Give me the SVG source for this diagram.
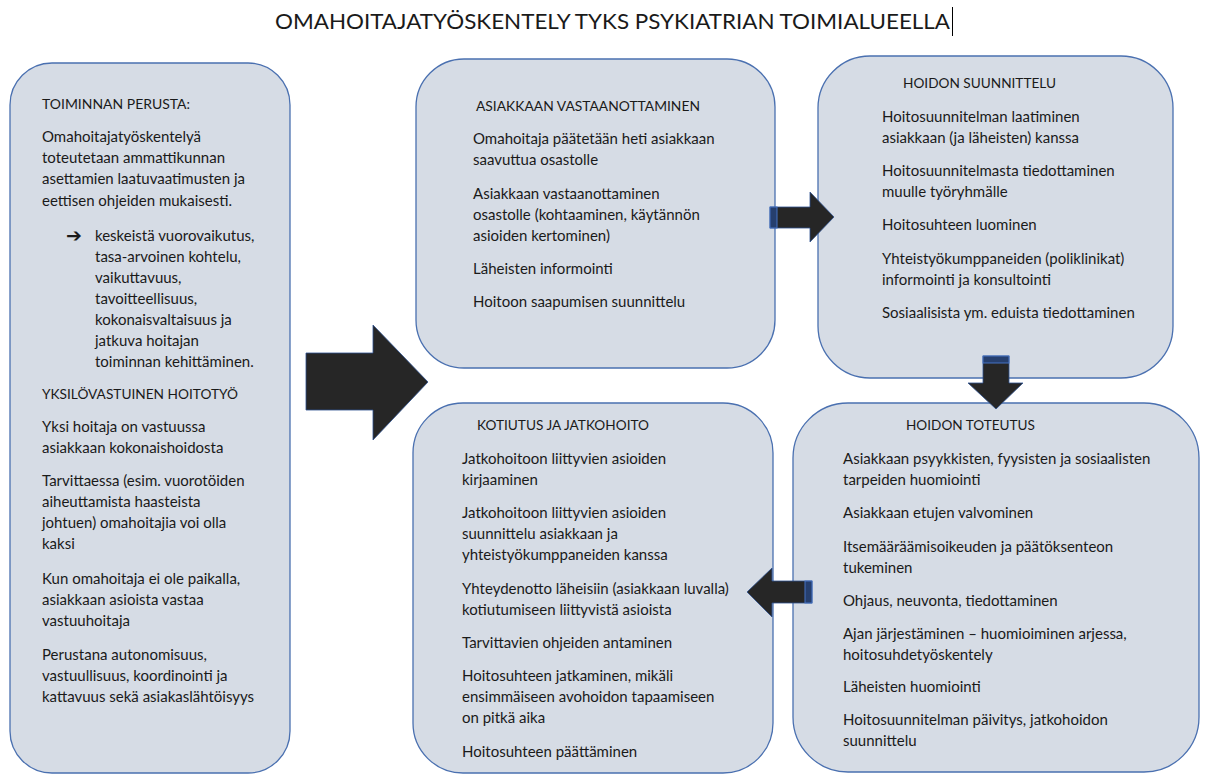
<svg xmlns="http://www.w3.org/2000/svg" width="1206" height="775" viewBox="0 0 1206 775">
<style>
.box{fill:#d6dce5;stroke:#4a70b0;stroke-width:1.3}
.t{font-family:Lato,"Liberation Sans",sans-serif;font-size:15px;fill:#1a1a1a}
.h{font-family:Lato,"Liberation Sans",sans-serif;font-size:14px;fill:#1a1a1a}
.arr{fill:#262626;stroke:#2f528f;stroke-width:0.8}
.band{fill:#263f6e;stroke:#4472c4;stroke-width:1}
</style>
<rect width="1206" height="775" fill="#ffffff"/>
<text x="275" y="29" font-family="Lato,'Liberation Sans',sans-serif" font-size="21" fill="#1a1a1a" textLength="675" lengthAdjust="spacingAndGlyphs">OMAHOITAJATYÖSKENTELY TYKS PSYKIATRIAN TOIMIALUEELLA</text>
<line x1="952.5" y1="7" x2="952.5" y2="36" stroke="#000" stroke-width="1"/>

<g id="perusta">
<rect class="box" x="10" y="63" width="280" height="710" rx="42" ry="42"/>
<text class="h" x="42" y="109" textLength="148" lengthAdjust="spacingAndGlyphs">TOIMINNAN PERUSTA:</text>
<text class="t" x="42" y="142">Omahoitajatyöskentelyä</text>
<text class="t" x="42" y="163">toteutetaan ammattikunnan</text>
<text class="t" x="42" y="184">asettamien laatuvaatimusten ja</text>
<text class="t" x="42" y="206">eettisen ohjeiden mukaisesti.</text>
<text x="66" y="242" font-family="'DejaVu Sans',sans-serif" font-size="19" font-weight="bold" fill="#1a1a1a">➔</text>
<text class="t" x="95" y="241">keskeistä vuorovaikutus,</text>
<text class="t" x="95" y="262">tasa-arvoinen kohtelu,</text>
<text class="t" x="95" y="283">vaikuttavuus,</text>
<text class="t" x="95" y="304">tavoitteellisuus,</text>
<text class="t" x="95" y="325">kokonaisvaltaisuus ja</text>
<text class="t" x="95" y="346">jatkuva hoitajan</text>
<text class="t" x="95" y="367">toiminnan kehittäminen.</text>
<text class="h" x="42" y="399" textLength="196" lengthAdjust="spacingAndGlyphs">YKSILÖVASTUINEN HOITOTYÖ</text>
<text class="t" x="42" y="432">Yksi hoitaja on vastuussa</text>
<text class="t" x="42" y="453">asiakkaan kokonaishoidosta</text>
<text class="t" x="42" y="486">Tarvittaessa (esim. vuorotöiden</text>
<text class="t" x="42" y="507">aiheuttamista haasteista</text>
<text class="t" x="42" y="528">johtuen) omahoitajia voi olla</text>
<text class="t" x="42" y="549">kaksi</text>
<text class="t" x="42" y="584">Kun omahoitaja ei ole paikalla,</text>
<text class="t" x="42" y="605">asiakkaan asioista vastaa</text>
<text class="t" x="42" y="626">vastuuhoitaja</text>
<text class="t" x="42" y="660">Perustana autonomisuus,</text>
<text class="t" x="42" y="681">vastuullisuus, koordinointi ja</text>
<text class="t" x="42" y="702">kattavuus sekä asiakaslähtöisyys</text>
</g>

<g id="vastaanottaminen">
<rect class="box" x="416" y="59" width="359" height="309" rx="48" ry="48"/>
<text class="h" x="476" y="111" textLength="224" lengthAdjust="spacingAndGlyphs">ASIAKKAAN VASTAANOTTAMINEN</text>
<text class="t" x="473" y="144">Omahoitaja päätetään heti asiakkaan</text>
<text class="t" x="473" y="165">saavuttua osastolle</text>
<text class="t" x="473" y="199">Asiakkaan vastaanottaminen</text>
<text class="t" x="473" y="220">osastolle (kohtaaminen, käytännön</text>
<text class="t" x="473" y="241">asioiden kertominen)</text>
<text class="t" x="473" y="274">Läheisten informointi</text>
<text class="t" x="473" y="307">Hoitoon saapumisen suunnittelu</text>
</g>

<g id="suunnittelu">
<rect class="box" x="818" y="56" width="355" height="322" rx="52" ry="52"/>
<text class="h" x="903" y="88" textLength="153" lengthAdjust="spacingAndGlyphs">HOIDON SUUNNITTELU</text>
<text class="t" x="882" y="122">Hoitosuunnitelman laatiminen</text>
<text class="t" x="882" y="143">asiakkaan (ja läheisten) kanssa</text>
<text class="t" x="882" y="176">Hoitosuunnitelmasta tiedottaminen</text>
<text class="t" x="882" y="197">muulle työryhmälle</text>
<text class="t" x="882" y="230">Hoitosuhteen luominen</text>
<text class="t" x="882" y="264">Yhteistyökumppaneiden (poliklinikat)</text>
<text class="t" x="882" y="285">informointi ja konsultointi</text>
<text class="t" x="882" y="318">Sosiaalisista ym. eduista tiedottaminen</text>
</g>

<g id="kotiutus">
<rect class="box" x="413" y="403" width="360" height="370" rx="50" ry="50"/>
<text class="h" x="477" y="430" textLength="172" lengthAdjust="spacingAndGlyphs">KOTIUTUS JA JATKOHOITO</text>
<text class="t" x="462" y="464">Jatkohoitoon liittyvien asioiden</text>
<text class="t" x="462" y="485">kirjaaminen</text>
<text class="t" x="462" y="518">Jatkohoitoon liittyvien asioiden</text>
<text class="t" x="462" y="539">suunnittelu asiakkaan ja</text>
<text class="t" x="462" y="560">yhteistyökumppaneiden kanssa</text>
<text class="t" x="462" y="594">Yhteydenotto läheisiin (asiakkaan luvalla)</text>
<text class="t" x="462" y="615">kotiutumiseen liittyvistä asioista</text>
<text class="t" x="462" y="648">Tarvittavien ohjeiden antaminen</text>
<text class="t" x="462" y="681">Hoitosuhteen jatkaminen, mikäli</text>
<text class="t" x="462" y="702">ensimmäiseen avohoidon tapaamiseen</text>
<text class="t" x="462" y="723">on pitkä aika</text>
<text class="t" x="462" y="757">Hoitosuhteen päättäminen</text>
</g>

<g id="toteutus">
<rect class="box" x="793" y="403" width="406" height="369" rx="55" ry="55"/>
<text class="h" x="906" y="430" textLength="129" lengthAdjust="spacingAndGlyphs">HOIDON TOTEUTUS</text>
<text class="t" x="843" y="464">Asiakkaan psyykkisten, fyysisten ja sosiaalisten</text>
<text class="t" x="843" y="485">tarpeiden huomiointi</text>
<text class="t" x="843" y="518">Asiakkaan etujen valvominen</text>
<text class="t" x="843" y="552">Itsemääräämisoikeuden ja päätöksenteon</text>
<text class="t" x="843" y="573">tukeminen</text>
<text class="t" x="843" y="606">Ohjaus, neuvonta, tiedottaminen</text>
<text class="t" x="843" y="639">Ajan järjestäminen – huomioiminen arjessa,</text>
<text class="t" x="843" y="660">hoitosuhdetyöskentely</text>
<text class="t" x="843" y="692">Läheisten huomiointi</text>
<text class="t" x="843" y="725">Hoitosuunnitelman päivitys, jatkohoidon</text>
<text class="t" x="843" y="746">suunnittelu</text>
</g>

<g id="connectors">
<polygon class="arr" points="306,353 373,353 373,325 428,382 373,440 373,410 306,410"/>
<polygon class="arr" points="770,207 810,207 810,192 834,217 810,242 810,228 770,228"/>
<rect class="band" x="770" y="207" width="7" height="21"/>
<polygon class="arr" points="983,356 1009,356 1009,383 1023,383 996,409 968,383 983,383"/>
<rect class="band" x="983" y="356" width="26" height="7"/>
<polygon class="arr" points="812,581 772,581 772,568 747,592 772,617 772,603 812,603"/>
<rect class="band" x="805" y="581" width="7" height="22"/>
</g>
</svg>
